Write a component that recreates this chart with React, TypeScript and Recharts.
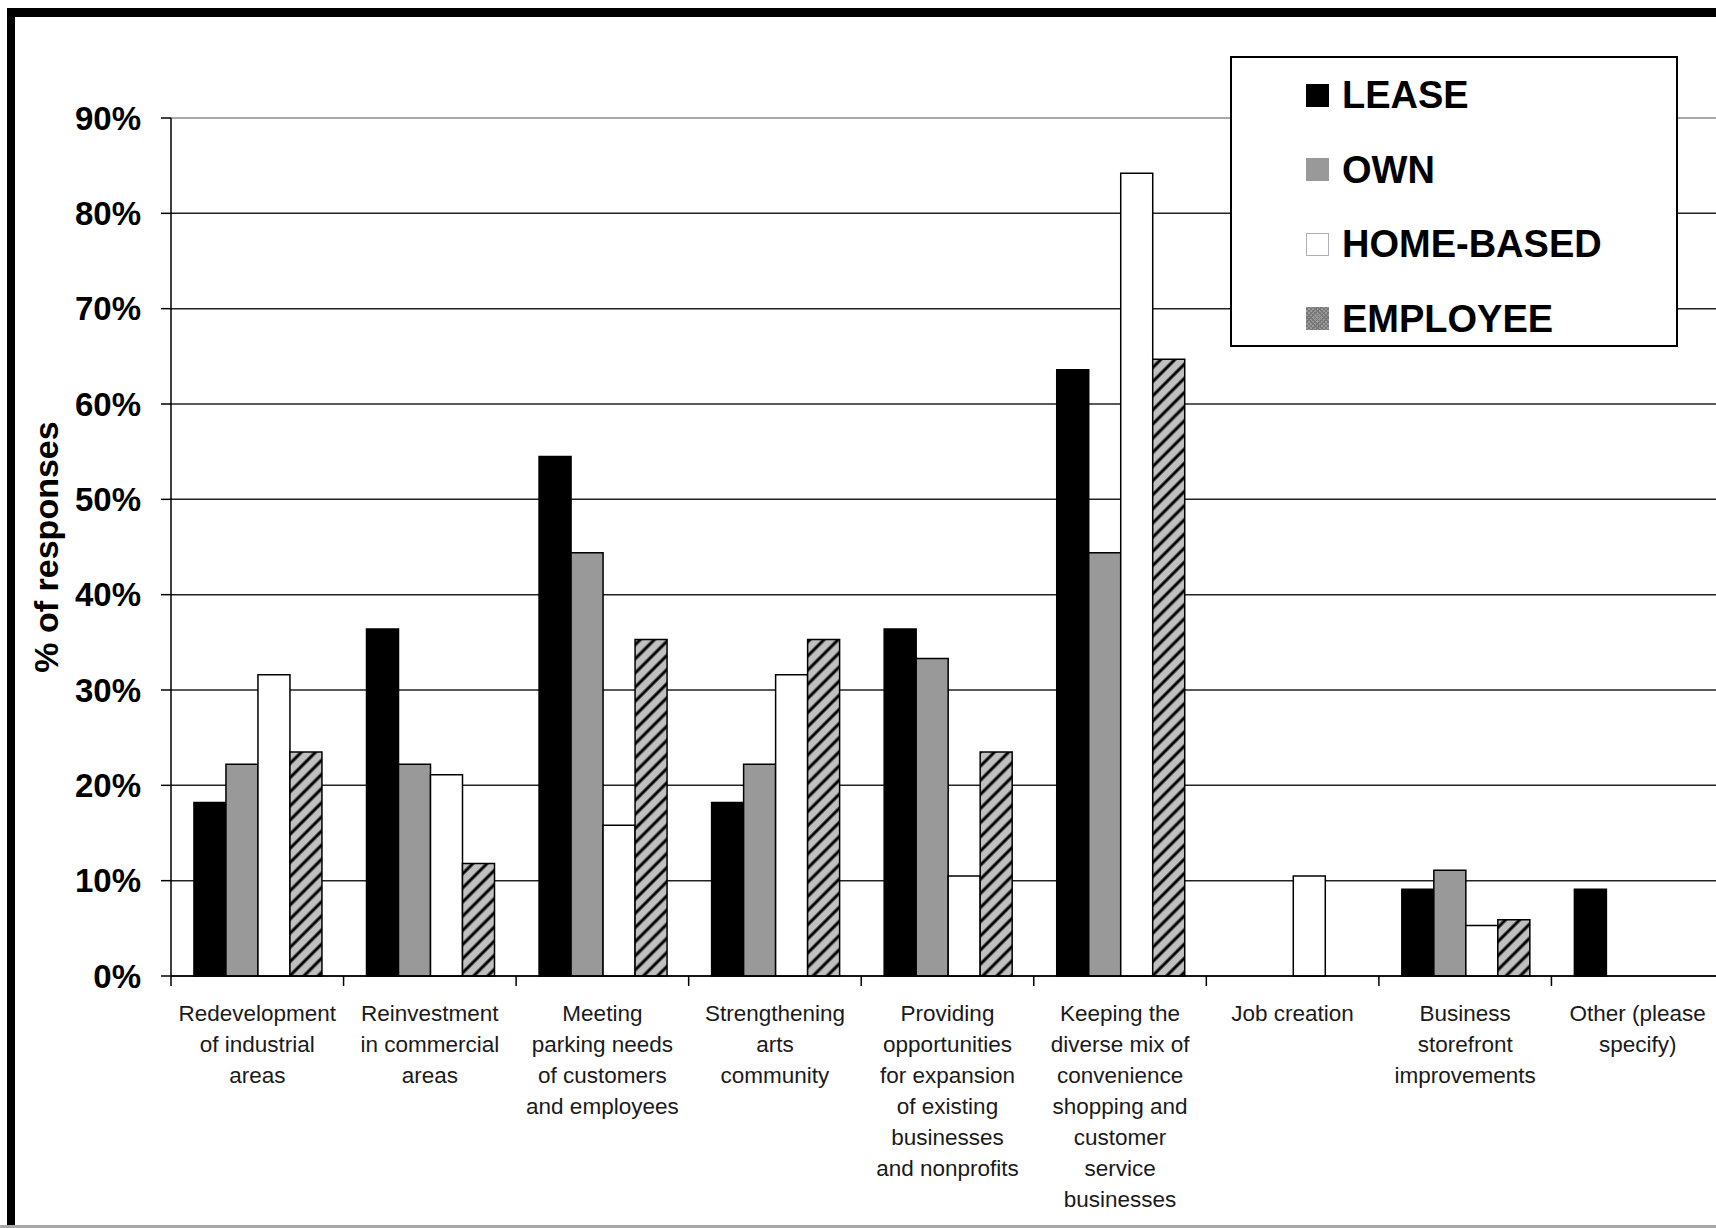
import React from "react";
import { BarChart, Bar, XAxis, YAxis, CartesianGrid } from "recharts";

// survey data (% of responses)
const categories = [
  "Redevelopment of industrial areas",
  "Reinvestment in commercial areas",
  "Meeting parking needs of customers and employees",
  "Strengthening arts community",
  "Providing opportunities for expansion of existing businesses and nonprofits",
  "Keeping the diverse mix of convenience shopping and customer service businesses",
  "Job creation",
  "Business storefront improvements",
  "Other (please specify)",
];

const tickLines = [
  ["Redevelopment", "of industrial", "areas"],
  ["Reinvestment", "in commercial", "areas"],
  ["Meeting", "parking needs", "of customers", "and employees"],
  ["Strengthening", "arts", "community"],
  ["Providing", "opportunities", "for expansion", "of existing", "businesses", "and nonprofits"],
  ["Keeping the", "diverse mix of", "convenience", "shopping and", "customer", "service", "businesses"],
  ["Job creation"],
  ["Business", "storefront", "improvements"],
  ["Other (please", "specify)"],
];

const lease = [18.2, 36.4, 54.5, 18.2, 36.4, 63.6, 0, 9.1, 9.1];
const own = [22.2, 22.2, 44.4, 22.2, 33.3, 44.4, 0, 11.1, 0];
const homeBased = [31.6, 21.1, 15.8, 31.6, 10.5, 84.2, 10.5, 5.3, 0];
const employee = [23.5, 11.8, 35.3, 35.3, 23.5, 64.7, 0, 5.9, 0];

const yTicks = [0, 10, 20, 30, 40, 50, 60, 70, 80, 90];

const data = categories.map((name, i) => ({
  name,
  lease: lease[i],
  own: own[i],
  home: homeBased[i],
  employee: employee[i],
}));

const FONT = "'Liberation Sans', Arial, sans-serif";

// layout
const CHART_W = 1760;
const CHART_H = 1228;
const PLOT_LEFT = 171;
const PLOT_TOP = 118;
const PLOT_BOTTOM = 976;
const PLOT_RIGHT = 1724;
const X_AXIS_H = 200;
const BAND = (PLOT_RIGHT - PLOT_LEFT) / categories.length;

const legendItems = [
  { label: "LEASE", swatch: { background: "#000" } },
  { label: "OWN", swatch: { background: "#999" } },
  { label: "HOME-BASED", swatch: { background: "#fff", border: "1px solid #b0b0b0", boxSizing: "border-box" as const } },
  {
    label: "EMPLOYEE",
    swatch: {
      backgroundColor: "#9a9a9a",
      backgroundImage:
        "repeating-linear-gradient(45deg, #777 0 1px, transparent 1px 3px), repeating-linear-gradient(-45deg, #777 0 1px, transparent 1px 3px)",
    },
  },
];

const XTick = (props: any) => {
  const { x, y, index } = props;
  const lines = tickLines[index] || [];
  const left = x - BAND / 2;
  return (
    <g>
      <line x1={left} x2={left} y1={y} y2={y + 10} stroke="#000" strokeWidth={1.5} />
      <text textAnchor="middle" fill="#1a1a1a" fontFamily={FONT} fontSize={22.5}>
        {lines.map((l: string, k: number) => (
          <tspan key={k} x={x} y={y + 45 + k * 31}>
            {l}
          </tspan>
        ))}
      </text>
    </g>
  );
};

// top gridline is lighter in the original
const GridLine = (p: any) => (
  <line
    key={p.key}
    x1={p.x1}
    y1={p.y1}
    x2={p.x2}
    y2={p.y2}
    stroke={Math.abs(p.y1 - PLOT_TOP) < 1 ? "#8a8a8a" : "#222"}
    strokeWidth={1.5}
  />
);

const YLabel = () => (
  <text
    x={46}
    y={547}
    transform="rotate(-90 46 547)"
    textAnchor="middle"
    dominantBaseline="central"
    fontFamily={FONT}
    fontWeight="bold"
    fontSize={34}
    fill="#000"
  >
    % of responses
  </text>
);

export default function App() {
  return (
    <div
      style={{
        position: "absolute",
        left: 0,
        top: 0,
        width: 1716,
        height: 1228,
        overflow: "hidden",
        background: "#fff",
      }}
    >
      <BarChart
        width={CHART_W}
        height={CHART_H}
        data={data}
        margin={{
          top: PLOT_TOP,
          right: CHART_W - PLOT_RIGHT,
          left: 0,
          bottom: CHART_H - PLOT_BOTTOM - X_AXIS_H,
        }}
        barCategoryGap="13.3%"
        barGap={0}
      >
        <defs>
          <pattern
            id="hatch"
            patternUnits="userSpaceOnUse"
            width={10}
            height={10}
            patternTransform="rotate(45)"
          >
            <rect x={0} y={0} width={10} height={10} fill="#c0c0c0" />
            <line x1={5} y1={0} x2={5} y2={10} stroke="#000" strokeWidth={3} />
          </pattern>
        </defs>
        <CartesianGrid vertical={false} horizontal={GridLine} />
        <XAxis
          dataKey="name"
          height={X_AXIS_H}
          interval={0}
          tickLine={false}
          tickSize={0}
          tickMargin={0}
          axisLine={{ stroke: "#000", strokeWidth: 1.5 }}
          tick={<XTick />}
        />
        <YAxis
          width={PLOT_LEFT}
          domain={[0, 90]}
          ticks={yTicks}
          interval={0}
          tickFormatter={(v: number) => `${v}%`}
          tickSize={10}
          tickMargin={20}
          axisLine={{ stroke: "#000", strokeWidth: 1.5 }}
          tickLine={{ stroke: "#000", strokeWidth: 1.5 }}
          tick={{ fill: "#000", fontSize: 33, fontWeight: "bold", fontFamily: FONT }}
          label={{ content: () => <YLabel /> }}
        />
        <Bar dataKey="lease" name="LEASE" fill="#000" stroke="#000" strokeWidth={1.5} isAnimationActive={false} />
        <Bar dataKey="own" name="OWN" fill="#999" stroke="#000" strokeWidth={1.5} isAnimationActive={false} />
        <Bar dataKey="home" name="HOME-BASED" fill="#fff" stroke="#000" strokeWidth={1.5} isAnimationActive={false} />
        <Bar dataKey="employee" name="EMPLOYEE" fill="url(#hatch)" stroke="#000" strokeWidth={1.5} isAnimationActive={false} />
      </BarChart>

      {/* legend box */}
      <div
        style={{
          position: "absolute",
          left: 1230,
          top: 56,
          width: 448,
          height: 291,
          boxSizing: "border-box",
          border: "2px solid #000",
          background: "#fff",
          fontFamily: FONT,
        }}
      >
        {legendItems.map((it, i) => (
          <div
            key={it.label}
            style={{
              position: "absolute",
              left: 74,
              top: 37 + i * 74.5 - 24,
              height: 48,
              display: "flex",
              alignItems: "center",
            }}
          >
            <div style={{ width: 23, height: 23, marginRight: 13, ...it.swatch }} />
            <span style={{ fontWeight: "bold", fontSize: 38, color: "#000", lineHeight: "48px" }}>
              {it.label}
            </span>
          </div>
        ))}
      </div>

      {/* outer frame */}
      <div
        style={{
          position: "absolute",
          left: 7,
          top: 8,
          width: 2000,
          height: 1400,
          borderLeft: "8px solid #000",
          borderTop: "9px solid #000",
          pointerEvents: "none",
        }}
      />
      <div
        style={{
          position: "absolute",
          left: 0,
          top: 1225,
          width: 1716,
          height: 3,
          background: "#a8a8a8",
        }}
      />
    </div>
  );
}
